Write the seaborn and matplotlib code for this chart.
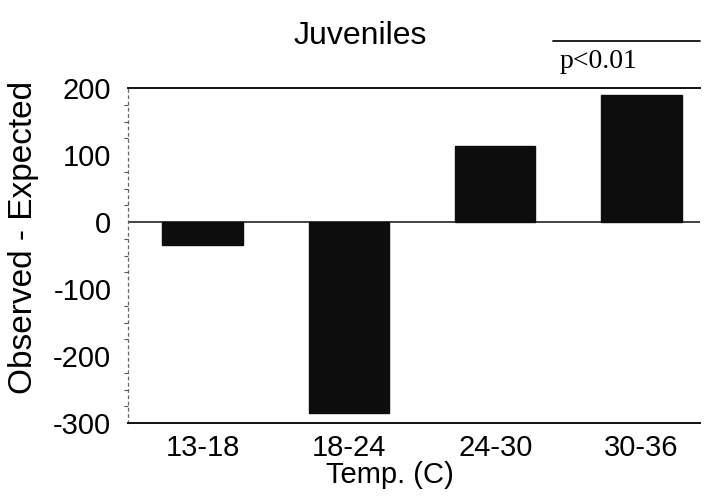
import matplotlib
matplotlib.use("Agg")
import matplotlib.pyplot as plt
from matplotlib.ticker import MultipleLocator
import seaborn as sns
import pandas as pd

categories = ["13-18", "18-24", "24-30", "30-36"]
values = [-34, -285, 114, 190]
title = "Juveniles"
xlabel = "Temp. (C)"
ylabel = "Observed - Expected"
yticks = [-300, -200, -100, 0, 100, 200]
annotation = "p<0.01"

sns.set_theme(style="white")
plt.rcParams["font.family"] = ["Liberation Sans", "DejaVu Sans"]
plt.rcParams["text.color"] = "black"
plt.rcParams["axes.labelcolor"] = "black"
plt.rcParams["xtick.color"] = "black"
plt.rcParams["ytick.color"] = "black"

df = pd.DataFrame({"temp": categories, "diff": values})

fig = plt.figure(figsize=(7.05, 4.96), dpi=100)
ax = fig.add_axes([0.1816, 0.147, 0.8114, 0.6756])

sns.barplot(data=df, x="temp", y="diff", color="#0d0d0d", width=0.55,
            saturation=1, edgecolor="#0d0d0d", ax=ax)

ax.set_xlim(-0.51, 3.4)
ax.set_ylim(-300, 200)
ax.set_yticks(yticks)
ax.set_yticklabels([str(v) for v in yticks])
ax.yaxis.set_minor_locator(MultipleLocator(25))
ax.tick_params(axis="y", which="major", direction="out", length=8, width=1,
               color="#333333", labelsize=21, pad=4)
ax.tick_params(axis="y", which="minor", direction="out", length=3, width=0.8,
               color="#555555", left=True)
ax.tick_params(axis="x", length=0, labelsize=21, pad=8)

ax.axhline(0, color="#222222", lw=1.2, zorder=0)

ax.spines["right"].set_visible(False)
ax.spines["top"].set_color("#111111")
ax.spines["top"].set_linewidth(1.4)
ax.spines["bottom"].set_color("#111111")
ax.spines["bottom"].set_linewidth(1.4)
ax.spines["left"].set_color("#666666")
ax.spines["left"].set_linewidth(0.9)
ax.spines["left"].set_linestyle((0, (2, 3)))

ax.set_xlabel(xlabel, fontsize=21)
ax.xaxis.set_label_coords(0.458, -0.113)
ax.set_ylabel(ylabel, fontsize=24)
ax.yaxis.set_label_coords(-0.155, 0.555)

fig.text(0.511, 0.928, title, ha="center", va="center", fontsize=23)

# significance annotation
fig.add_artist(plt.Line2D([553 / 705, 700 / 705], [1 - 41 / 496, 1 - 41 / 496],
                          color="#111111", lw=1.3))
fig.text(599 / 705, 1 - 61 / 496, annotation, ha="center", va="center",
         fontsize=20, family=["Liberation Serif", "DejaVu Serif"])

fig.savefig("out.png", dpi=100, facecolor="white")
